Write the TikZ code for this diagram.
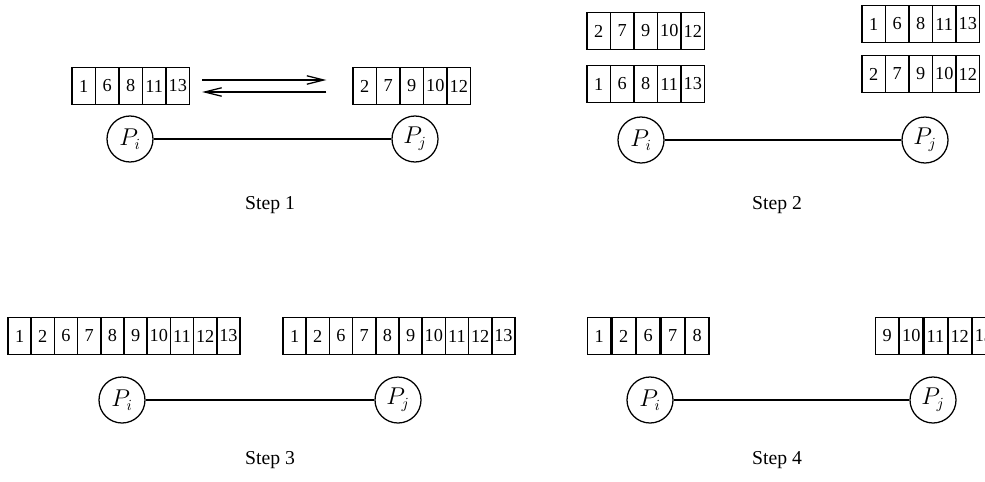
\documentclass[tikz,border=0pt]{standalone}
\usepackage{fontspec}
\setmainfont{Liberation Serif}
\usetikzlibrary{positioning, arrows.meta}

\begin{document}
\begin{tikzpicture}[x=0.025cm, y=-0.025cm,
  cell/.style={draw, line width=1pt, minimum width=0.585cm, minimum height=0.93cm, inner sep=0pt, font=\fontsize{13}{13}\selectfont},
  proc/.style={circle, draw, line width=0.9pt, minimum size=1.15cm, inner sep=0pt, font=\fontsize{16}{16}\selectfont},
  link/.style={line width=1.6pt},
  steplabel/.style={font=\fontsize{14}{14}\selectfont}]
  \useasboundingbox (0,0) rectangle (985,481);
  \clip (0,0) rectangle (985,481);

  % Step 1: exchange of blocks
  \foreach \v [count=\k] in {1,6,8,11,13}
    \node[cell] (s1l-\k) at ({72+23.5*(\k-0.5)},86) {\v};
  \foreach \v [count=\k] in {2,7,9,10,12}
    \node[cell] (s1r-\k) at ({353+23.5*(\k-0.5)},86) {\v};
  \draw[-{Straight Barb[length=12pt,width=6pt]}, line width=0.9pt, shorten <=0.3cm, shorten >=0.65cm]
    ([yshift=0.15cm]s1l-5.east) -- ([yshift=0.15cm]s1r-1.west);
  \draw[-{Straight Barb[length=12pt,width=6pt]}, line width=0.9pt, shorten <=0.65cm, shorten >=0.3cm]
    ([yshift=-0.15cm]s1r-1.west) -- ([yshift=-0.15cm]s1l-5.east);
  \node[proc] (pi1) at (130,139) {$P_i$};
  \node[proc] (pj1) at (415,139) {$P_j$};
  \draw[link] (pi1) -- (pj1);
  \node[steplabel] (lab1) at (270,205) {Step 1};

  % Step 2: both processes hold both blocks
  \foreach \v [count=\k] in {2,7,9,10,12}
    \node[cell] (s2a-\k) at ({587+23.5*(\k-0.5)},31) {\v};
  \foreach \v [count=\k] in {1,6,8,11,13}
    \node[cell] (s2b-\k) at ({587+23.5*(\k-0.5)},84) {\v};
  \foreach \v [count=\k] in {1,6,8,11,13}
    \node[cell] (s2c-\k) at ({862+23.5*(\k-0.5)},24) {\v};
  \foreach \v [count=\k] in {2,7,9,10,12}
    \node[cell] (s2d-\k) at ({862+23.5*(\k-0.5)},74) {\v};
  \node[proc] (pi2) at (641,140) {$P_i$};
  \node[proc] (pj2) at (925,140) {$P_j$};
  \draw[link] (pi2) -- (pj2);
  \node[steplabel] (lab2) at (777,205) {Step 2};

  % Step 3: merged blocks
  \foreach \v [count=\k] in {1,2,6,7,8,9,10,11,12,13}
    \node[cell] (s3l-\k) at ({8+23.2*(\k-0.5)},336) {\v};
  \foreach \v [count=\k] in {1,2,6,7,8,9,10,11,12,13}
    \node[cell] (s3r-\k) at ({283+23.2*(\k-0.5)},336) {\v};
  \node[proc] (pi3) at (122,400) {$P_i$};
  \node[proc] (pj3) at (398,400) {$P_j$};
  \draw[link] (pi3) -- (pj3);
  \node[steplabel] (lab3) at (270,460) {Step 3};

  % Step 4: each keeps its half
  \foreach \v [count=\k] in {1,2,6,7,8}
    \node[cell] (s4l-\k) at ({587+24.5*(\k-0.5)},336) {\v};
  \foreach \v [count=\k] in {9,10,11,12,13}
    \node[cell] (s4r-\k) at ({875+24.2*(\k-0.5)},336) {\v};
  \node[proc] (pi4) at (650,400) {$P_i$};
  \node[proc] (pj4) at (933,400) {$P_j$};
  \draw[link] (pi4) -- (pj4);
  \node[steplabel] (lab4) at (777,460) {Step 4};
\end{tikzpicture}
\end{document}
